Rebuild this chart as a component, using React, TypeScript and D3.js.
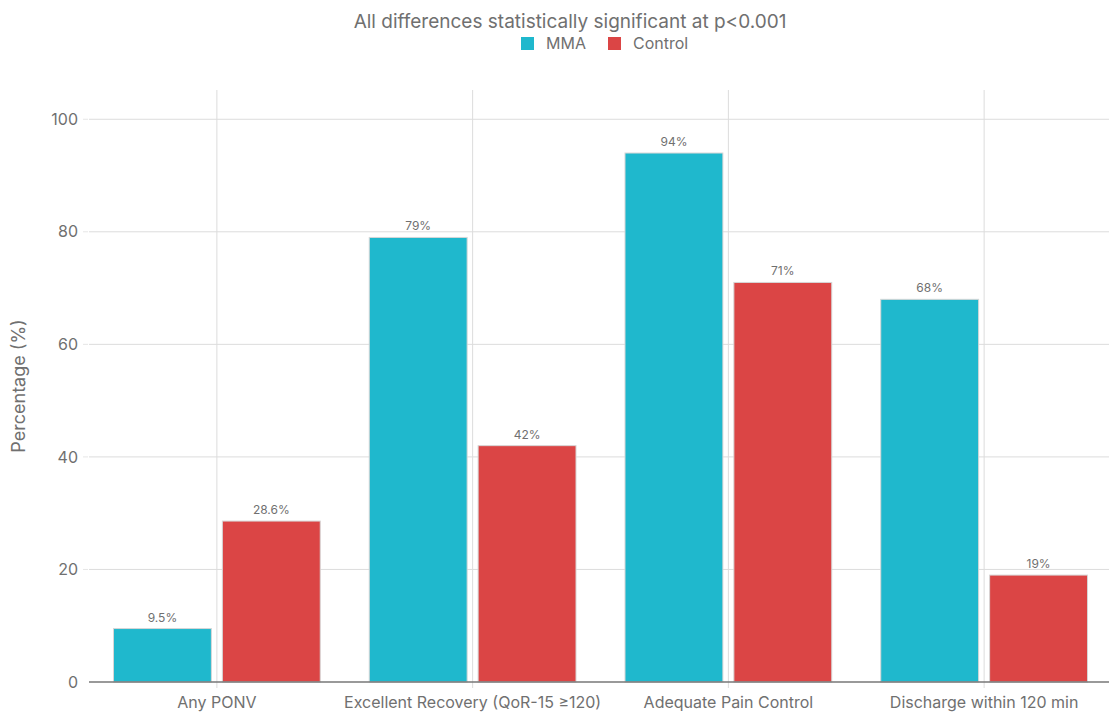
import React from "react";
import * as d3 from "d3";

const categories = ["Any PONV", "Excellent Recovery (QoR-15 ≥120)", "Adequate Pain Control", "Discharge within 120 min"];
const seriesNames = ["MMA", "Control"];
const mmaValues = [9.5, 79, 94, 68];
const controlValues = [28.6, 42, 71, 19];
const valueLabelsMMA = ["9.5%", "79%", "94%", "68%"];
const valueLabelsControl = ["28.6%", "42%", "71%", "19%"];
const yTicks = [0, 20, 40, 60, 80, 100];
const colors = ["#1FB8CD", "#DB4545"];

const W = 1109, H = 713;
const left = 89, right = 1112, top = 90, bottom = 682;
const font = "Inter, 'Noto Sans', sans-serif";

export default function App() {
  const x = d3.scaleBand<string>().domain(categories).range([left, right]).paddingInner(0).paddingOuter(0);
  const y = d3.scaleLinear().domain([0, 105.2]).range([bottom, top]);
  const inner = d3.scaleBand<string>().domain(seriesNames).range([0, x.bandwidth()]).paddingInner(0.101).paddingOuter(0.225);
  const series = [mmaValues, controlValues];
  const labels = [valueLabelsMMA, valueLabelsControl];
  return (
    <svg width={W} height={H} style={{ position: "absolute", left: 0, top: 0, background: "#fff" }} fontFamily={font}>
      {yTicks.filter(t => t > 0).map(t => (
        <g key={t}>
          <line x1={left} x2={W} y1={y(t)} y2={y(t)} stroke="#dcdcdc" strokeWidth={1} />
          <line x1={left - 6} x2={left - 1} y1={y(t)} y2={y(t)} stroke="#e6e6e6" strokeWidth={1} />
        </g>
      ))}
      {categories.map(c => (
        <line key={c} x1={x(c)! + x.bandwidth() / 2} x2={x(c)! + x.bandwidth() / 2} y1={top} y2={bottom + 6} stroke="#dcdcdc" strokeWidth={1} />
      ))}
      {yTicks.map(t => (
        <text key={t} x={78} y={y(t)} dy="0.35em" textAnchor="end" fontSize={16} fill="#707070">{t}</text>
      ))}
      {categories.map((c, i) => (
        <g key={c}>
          {series.map((s, j) => {
            const bx = x(c)! + inner(seriesNames[j])!;
            return (
              <g key={j}>
                <rect x={bx} y={y(s[i])} width={inner.bandwidth()} height={y(0) - y(s[i])} fill={colors[j]} stroke="#d6d6d6" strokeWidth={1} />
                <text x={bx + inner.bandwidth() / 2} y={y(s[i]) - 7} textAnchor="middle" fontSize={12} fill="#707070">{labels[j][i]}</text>
              </g>
            );
          })}
          <text x={x(c)! + x.bandwidth() / 2} y={708} textAnchor="middle" fontSize={16} fill="#707070">{c}</text>
        </g>
      ))}
      <line x1={left} x2={W} y1={bottom} y2={bottom} stroke="#777" strokeWidth={1.5} />
      <text transform={`translate(25,${(top + bottom) / 2}) rotate(-90)`} textAnchor="middle" fontSize={18} fill="#707070">Percentage (%)</text>
      <text x={570} y={28} textAnchor="middle" fontSize={19} fill="#707070">All differences statistically significant at p&lt;0.001</text>
      <rect x={521} y={37} width={13} height={13} fill={colors[0]} />
      <text x={546} y={49} fontSize={16} fill="#707070">MMA</text>
      <rect x={608} y={37} width={13} height={13} fill={colors[1]} />
      <text x={633} y={49} fontSize={16} fill="#707070">Control</text>
    </svg>
  );
}
